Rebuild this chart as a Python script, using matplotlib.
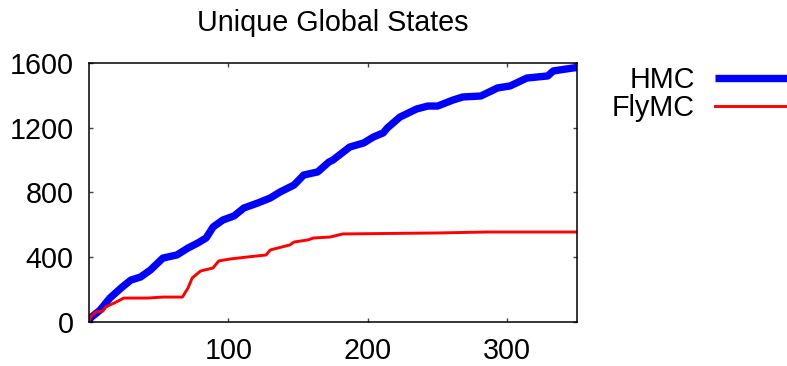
import numpy as np
import matplotlib.pyplot as plt

plt.rcParams['font.family'] = ['Liberation Sans', 'DejaVu Sans']

# HMC curve
hmc_x = [0, 1, 8, 15, 23, 30, 37, 44, 53, 63, 71, 78, 84, 89, 96, 104, 111, 121,
         130, 137, 147, 154, 164, 172, 175, 187, 197, 204, 211, 214, 223, 235, 243,
         250, 261, 268, 281, 293, 302, 314, 329, 333, 347, 350]
hmc_y = [0, 25, 74, 148, 210, 259, 278, 321, 395, 414, 457, 488, 519, 587, 630, 655,
         704, 735, 766, 803, 846, 908, 927, 988, 1001, 1081, 1106, 1143, 1168, 1199,
         1266, 1316, 1334, 1334, 1371, 1390, 1396, 1446, 1458, 1507, 1520, 1551, 1569, 1572]

# FlyMC curve
fly_x = [0, 1, 5, 10, 12, 18, 25, 42, 53, 67, 71, 74, 80, 89, 93, 101, 114, 127,
         130, 144, 147, 157, 161, 173, 182, 250, 286, 350]
fly_y = [0, 31, 62, 68, 93, 117, 148, 148, 154, 154, 210, 272, 315, 334, 377, 389,
         402, 414, 445, 476, 494, 507, 519, 525, 544, 550, 556, 556]

fs = 20.7

fig = plt.figure(figsize=(7.87, 3.66), dpi=100)
ax = fig.add_axes([0.1131, 0.1202, 0.6201, 0.7077])

ax.plot(hmc_x, hmc_y, color='#0000ff', lw=5.3, label='HMC', solid_capstyle='butt')
ax.plot(fly_x, fly_y, color='#ff0000', lw=2.1, label='FlyMC')

ax.set_xlim(0, 350)
ax.set_ylim(0, 1600)
ax.set_xticks([100, 200, 300])
ax.set_yticks([0, 400, 800, 1200, 1600])
ax.tick_params(direction='in', length=3, width=1, top=True, right=True,
               labelsize=fs, color='#444444')
ax.tick_params(axis='x', pad=11)
ax.tick_params(axis='y', pad=11)
for s in ax.spines.values():
    s.set_linewidth(1.1)

ax.set_title('Unique Global States', fontsize=fs, pad=23)

ax.legend(loc='upper right', bbox_to_anchor=(1.0, 0.82), bbox_transform=fig.transFigure,
          frameon=False, markerfirst=False, fontsize=fs, handlelength=2.5,
          handletextpad=0.7, labelspacing=0.0, borderpad=0, borderaxespad=0)

fig.savefig('out.png')
